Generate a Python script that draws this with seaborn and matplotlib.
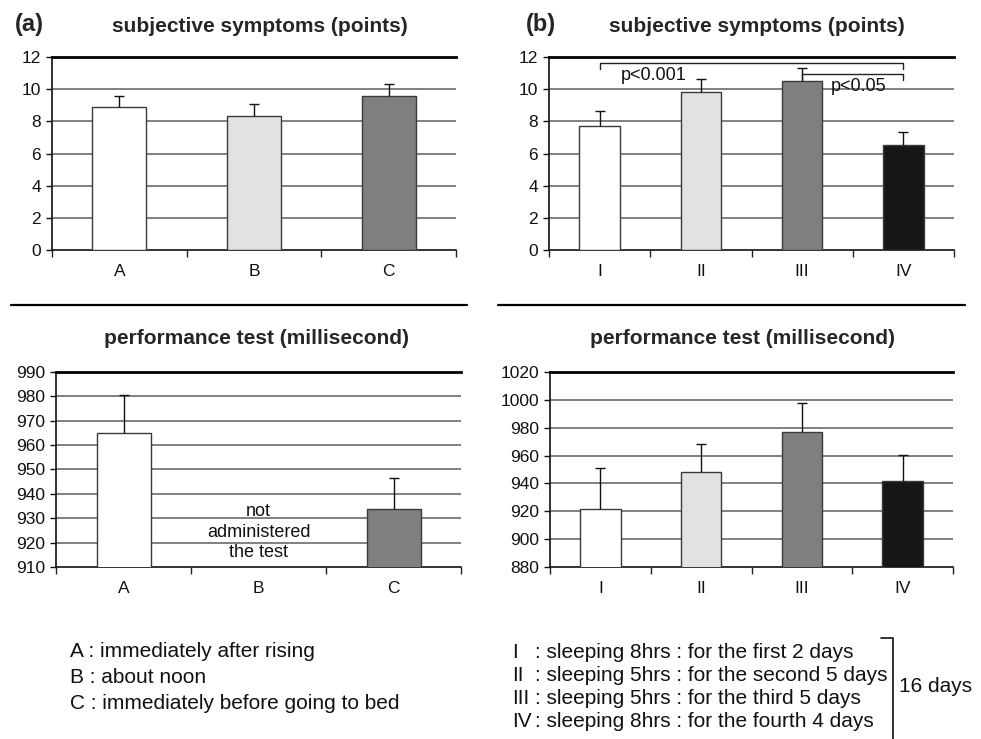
import numpy as np
import pandas as pd
import matplotlib
matplotlib.use("Agg")
import matplotlib.pyplot as plt
from matplotlib.lines import Line2D
import seaborn as sns

# ---- data ----
cats_a = ["A", "B", "C"]
cats_b = ["I", "II", "III", "IV"]
symp_a = [8.87, 8.34, 9.56]
symp_a_err = [0.68, 0.75, 0.75]
symp_b = [7.72, 9.83, 10.52, 6.50]
symp_b_err = [0.95, 0.81, 0.80, 0.81]
perf_a = [965.1, np.nan, 933.8]
perf_a_err = [15.5, 0.0, 12.7]
perf_b = [921.6, 948.0, 977.1, 941.7]
perf_b_err = [29.7, 20.5, 20.8, 18.9]

colors_a = ["#ffffff", "#e1e3e2", "#7f7f7f"]
colors_b = ["#ffffff", "#e1e3e2", "#7f7f7f", "#161616"]

legend_a = ["A : immediately after rising", "B : about noon",
            "C : immediately before going to bed"]
legend_b_num = ["I", "II", "III", "IV"]
legend_b_txt = [": sleeping 8hrs : for the first 2 days",
                ": sleeping 5hrs : for the second 5 days",
                ": sleeping 5hrs : for the third 5 days",
                ": sleeping 8hrs : for the fourth 4 days"]

sns.set_theme(style="white")
plt.rcParams["font.family"] = ["Liberation Sans", "DejaVu Sans"]

W, H = 981, 739
fig = plt.figure(figsize=(W / 100, H / 100), dpi=100)

TICK_FS = 12.5
TITLE_FS = 15
LEG_FS = 15


def px_axes(l, t, r, b):
    return fig.add_axes([l / W, 1 - b / H, (r - l) / W, (b - t) / H])


def draw_panel(ax, cats, vals, errs, colors, ylim, step):
    df = pd.DataFrame({"cat": cats, "val": vals})
    sns.barplot(data=df, x="cat", y="val", hue="cat", order=cats,
                hue_order=cats, palette=colors, width=0.4, legend=False,
                edgecolor="#3a3a3a", linewidth=1.0, ax=ax, zorder=3)
    x = np.arange(len(cats))
    v = np.array(vals, dtype=float)
    e = np.array(errs, dtype=float)
    ok = ~np.isnan(v)
    _, caps, _ = ax.errorbar(x[ok], v[ok], yerr=[np.zeros(ok.sum()), e[ok]],
                             fmt="none", ecolor="#111111", elinewidth=1.0,
                             capsize=3.5, capthick=1.0, zorder=4)
    if len(caps) == 2:
        caps[0].set_visible(False)
    ax.set_ylim(*ylim)
    ax.set_xlim(-0.5, len(cats) - 0.5)
    yt = np.arange(ylim[0], ylim[1] + step / 2, step)
    ax.set_yticks(yt)
    ax.set_yticklabels([f"{t:g}" for t in yt])
    for t in yt[1:-1]:
        ax.axhline(t, color="#808080", lw=1.4, zorder=1)
    ax.set_xlabel("")
    ax.set_ylabel("")
    ax.set_xticks(x)
    ax.set_xticklabels(cats)
    ax.set_xticks(np.arange(len(cats) + 1) - 0.5, minor=True)
    ax.tick_params(axis="x", which="major", length=0, pad=10,
                   labelsize=TICK_FS, colors="#111111")
    ax.tick_params(axis="x", which="minor", length=5, width=1.0,
                   direction="out", color="#222222", bottom=True)
    ax.tick_params(axis="y", length=4, width=1.0, direction="out",
                   labelsize=TICK_FS, colors="#111111", left=True, pad=4)
    ax.grid(False)
    ax.spines["right"].set_visible(False)
    for s in ("left", "bottom"):
        ax.spines[s].set_color("#111111")
        ax.spines[s].set_linewidth(1.2)
    ax.spines["top"].set_color("#000000")
    ax.spines["top"].set_linewidth(2.0)


ax1 = px_axes(52, 57, 456, 250)
draw_panel(ax1, cats_a, symp_a, symp_a_err, colors_a, (0, 12), 2)
ax2 = px_axes(549, 57, 954, 250)
draw_panel(ax2, cats_b, symp_b, symp_b_err, colors_b, (0, 12), 2)
ax3 = px_axes(56, 372, 461, 567)
draw_panel(ax3, cats_a, perf_a, perf_a_err, colors_a, (910, 990), 10)
ax4 = px_axes(550, 372, 953, 567)
draw_panel(ax4, cats_b, perf_b, perf_b_err, colors_b, (880, 1020), 20)

# "not administered the test"
ax3.text(1, 924.3, "not\nadministered\nthe test", ha="center", va="center",
         fontsize=13, color="#111111", linespacing=1.25, zorder=5)

# significance brackets in panel (b)
brackets = [(0, 3, 11.65, 11.25, "p<0.001", 0.53, 10.85),
            (2, 3, 10.97, 10.57, "p<0.05", 2.56, 10.15)]
for i0, i1, ytop, ybot, lab, tx, ty in brackets:
    ax2.plot([i0, i0, i1, i1], [ybot, ytop, ytop, ybot], color="#222222",
             lw=1.0, zorder=5)
    ax2.text(tx, ty, lab, ha="center", va="center", fontsize=13,
             color="#111111", zorder=6)

# titles
fig.text(29 / W, 1 - 25 / H, "(a)", fontsize=17, fontweight="bold",
         ha="center", va="center")
fig.text(541 / W, 1 - 25 / H, "(b)", fontsize=17, fontweight="bold",
         ha="center", va="center")
fig.text(260 / W, 1 - 26 / H, "subjective symptoms (points)",
         fontsize=TITLE_FS, fontweight="bold", ha="center", va="center")
fig.text(757 / W, 1 - 26 / H, "subjective symptoms (points)",
         fontsize=TITLE_FS, fontweight="bold", ha="center", va="center")
fig.text(257 / W, 1 - 338 / H, "performance test (millisecond)",
         fontsize=TITLE_FS, fontweight="bold", ha="center", va="center")
fig.text(742 / W, 1 - 338 / H, "performance test (millisecond)",
         fontsize=TITLE_FS, fontweight="bold", ha="center", va="center")

# separators
fig.add_artist(Line2D([11 / W, 467 / W], [1 - 305 / H, 1 - 305 / H],
                      color="black", lw=1.6))
fig.add_artist(Line2D([498 / W, 965 / W], [1 - 305 / H, 1 - 305 / H],
                      color="black", lw=1.6))

# legends
for k, s in enumerate(legend_a):
    fig.text(70 / W, 1 - (657 + 26 * k) / H, s, fontsize=LEG_FS,
             ha="left", va="baseline", color="#111111")
for k, (n, s) in enumerate(zip(legend_b_num, legend_b_txt)):
    y = 1 - (658 + 23 * k) / H
    fig.text(512 / W, y, n, fontsize=LEG_FS, ha="left", va="baseline",
             color="#111111")
    fig.text(535 / W, y, s, fontsize=LEG_FS, ha="left", va="baseline",
             color="#111111")
fig.add_artist(Line2D([881 / W, 893 / W, 893 / W],
                      [1 - 638 / H, 1 - 638 / H, 0.0],
                      color="#111111", lw=1.2))
fig.text(899 / W, 1 - 686 / H, "16 days", fontsize=LEG_FS, ha="left",
         va="center", color="#111111")

fig.savefig("out.png", dpi=100, facecolor="white")
